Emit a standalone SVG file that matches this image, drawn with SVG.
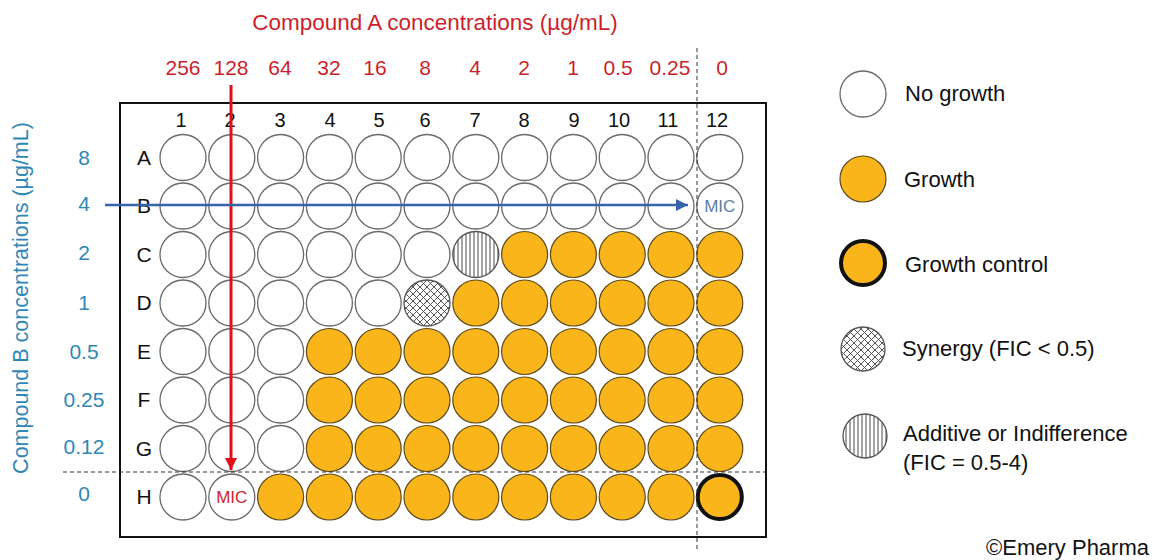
<svg xmlns="http://www.w3.org/2000/svg" width="1152" height="560" viewBox="0 0 1152 560">
<style>
text{font-family:"Liberation Sans",Arial,sans-serif;}
.w{fill:#fff;stroke:#6a6a6a;stroke-width:1.3}
.g{fill:#FAB51B;stroke:#5c4a1c;stroke-width:1.2}
.gc{fill:#FAB51B;stroke:#111;stroke-width:4}
.syn{fill:url(#cross);stroke:#555;stroke-width:1.3}
.add{fill:url(#vlines);stroke:#555;stroke-width:1.3}
.red{fill:#cc1f2d;font-size:21px;text-anchor:middle}
.blue{fill:#2f87b6;font-size:21px;text-anchor:middle}
.num{fill:#111;font-size:20px;text-anchor:middle}
.let{fill:#111;font-size:21px;text-anchor:middle}
.lg{fill:#111;font-size:22px}
</style>
<defs>
<pattern id="cross" patternUnits="userSpaceOnUse" width="7" height="7">
<rect width="7" height="7" fill="#fff"/>
<path d="M0,0L7,7M7,0L0,7M-1,6L1,8M6,-1L8,1M-1,1L1,-1M6,8L8,6" stroke="#444" stroke-width="0.9"/>
</pattern>
<pattern id="vlines" patternUnits="userSpaceOnUse" width="4" height="4">
<rect width="4" height="4" fill="#fff"/>
<path d="M2,0V4" stroke="#333" stroke-width="0.9"/>
</pattern>
<marker id="ahRed" markerUnits="userSpaceOnUse" markerWidth="14" markerHeight="14" refX="12" refY="6" orient="auto">
<path d="M0,0L12,6L0,12z" fill="#e3101b"/>
</marker>
<marker id="ahBlue" markerUnits="userSpaceOnUse" markerWidth="14" markerHeight="14" refX="12" refY="6" orient="auto">
<path d="M0,0L12,6L0,12z" fill="#3565a8"/>
</marker>
</defs>
<rect width="1152" height="560" fill="#fff"/>

<g id="titleA">
<text x="435" y="30" fill="#cc1f2d" font-size="22.5" text-anchor="middle">Compound A concentrations (µg/mL)</text>
</g>
<g id="concA">
<text class="red" x="183" y="75">256</text>
<text class="red" x="231" y="75">128</text>
<text class="red" x="280" y="75">64</text>
<text class="red" x="329" y="75">32</text>
<text class="red" x="375" y="75">16</text>
<text class="red" x="425" y="75">8</text>
<text class="red" x="475" y="75">4</text>
<text class="red" x="524" y="75">2</text>
<text class="red" x="573" y="75">1</text>
<text class="red" x="618" y="75">0.5</text>
<text class="red" x="670" y="75">0.25</text>
<text class="red" x="722" y="75">0</text>
</g>
<g id="titleB">
<text transform="translate(28,298) rotate(-90)" fill="#2f87b6" font-size="21.5" text-anchor="middle">Compound B concentrations (µg/mL)</text>
</g>
<g id="concB">
<text class="blue" x="84" y="165">8</text>
<text class="blue" x="84" y="211">4</text>
<text class="blue" x="84" y="260">2</text>
<text class="blue" x="84" y="310">1</text>
<text class="blue" x="84" y="359">0.5</text>
<text class="blue" x="84" y="407">0.25</text>
<text class="blue" x="84" y="454">0.12</text>
<text class="blue" x="84" y="501">0</text>
</g>

<g id="plate">
<rect x="120" y="103" width="646" height="434" fill="none" stroke="#111" stroke-width="2"/>
<text class="num" x="181" y="127">1</text>
<text class="num" x="230" y="127">2</text>
<text class="num" x="280" y="127">3</text>
<text class="num" x="330" y="127">4</text>
<text class="num" x="379" y="127">5</text>
<text class="num" x="425" y="127">6</text>
<text class="num" x="475" y="127">7</text>
<text class="num" x="524" y="127">8</text>
<text class="num" x="574" y="127">9</text>
<text class="num" x="619" y="127">10</text>
<text class="num" x="668" y="127">11</text>
<text class="num" x="717" y="127">12</text>
<text class="let" x="144" y="165">A</text>
<text class="let" x="144" y="213">B</text>
<text class="let" x="144" y="262">C</text>
<text class="let" x="144" y="310">D</text>
<text class="let" x="144" y="359">E</text>
<text class="let" x="144" y="407">F</text>
<text class="let" x="144" y="456">G</text>
<text class="let" x="144" y="504">H</text>
</g>

<g id="rowA">
<circle class="w" cx="183" cy="157.5" r="23"/><circle class="w" cx="231.8" cy="157.5" r="23"/><circle class="w" cx="280.6" cy="157.5" r="23"/><circle class="w" cx="329.4" cy="157.5" r="23"/><circle class="w" cx="378.2" cy="157.5" r="23"/><circle class="w" cx="427" cy="157.5" r="23"/><circle class="w" cx="475.8" cy="157.5" r="23"/><circle class="w" cx="524.6" cy="157.5" r="23"/><circle class="w" cx="573.4" cy="157.5" r="23"/><circle class="w" cx="622.2" cy="157.5" r="23"/><circle class="w" cx="671" cy="157.5" r="23"/><circle class="w" cx="719.8" cy="157.5" r="23"/>
</g>
<g id="rowB">
<circle class="w" cx="183" cy="206" r="23"/><circle class="w" cx="231.8" cy="206" r="23"/><circle class="w" cx="280.6" cy="206" r="23"/><circle class="w" cx="329.4" cy="206" r="23"/><circle class="w" cx="378.2" cy="206" r="23"/><circle class="w" cx="427" cy="206" r="23"/><circle class="w" cx="475.8" cy="206" r="23"/><circle class="w" cx="524.6" cy="206" r="23"/><circle class="w" cx="573.4" cy="206" r="23"/><circle class="w" cx="622.2" cy="206" r="23"/><circle class="w" cx="671" cy="206" r="23"/><circle class="w" cx="719.8" cy="206" r="23"/>
<text x="719.8" y="212" fill="#5a7ea8" font-size="17" text-anchor="middle">MIC</text>
</g>
<g id="rowC">
<circle class="w" cx="183" cy="254.5" r="23"/><circle class="w" cx="231.8" cy="254.5" r="23"/><circle class="w" cx="280.6" cy="254.5" r="23"/><circle class="w" cx="329.4" cy="254.5" r="23"/><circle class="w" cx="378.2" cy="254.5" r="23"/><circle class="w" cx="427" cy="254.5" r="23"/><circle class="add" cx="475.8" cy="254.5" r="23"/><circle class="g" cx="524.6" cy="254.5" r="23"/><circle class="g" cx="573.4" cy="254.5" r="23"/><circle class="g" cx="622.2" cy="254.5" r="23"/><circle class="g" cx="671" cy="254.5" r="23"/><circle class="g" cx="719.8" cy="254.5" r="23"/>
</g>
<g id="rowD">
<circle class="w" cx="183" cy="303" r="23"/><circle class="w" cx="231.8" cy="303" r="23"/><circle class="w" cx="280.6" cy="303" r="23"/><circle class="w" cx="329.4" cy="303" r="23"/><circle class="w" cx="378.2" cy="303" r="23"/><circle class="syn" cx="427" cy="303" r="23"/><circle class="g" cx="475.8" cy="303" r="23"/><circle class="g" cx="524.6" cy="303" r="23"/><circle class="g" cx="573.4" cy="303" r="23"/><circle class="g" cx="622.2" cy="303" r="23"/><circle class="g" cx="671" cy="303" r="23"/><circle class="g" cx="719.8" cy="303" r="23"/>
</g>
<g id="rowE">
<circle class="w" cx="183" cy="351.5" r="23"/><circle class="w" cx="231.8" cy="351.5" r="23"/><circle class="w" cx="280.6" cy="351.5" r="23"/><circle class="g" cx="329.4" cy="351.5" r="23"/><circle class="g" cx="378.2" cy="351.5" r="23"/><circle class="g" cx="427" cy="351.5" r="23"/><circle class="g" cx="475.8" cy="351.5" r="23"/><circle class="g" cx="524.6" cy="351.5" r="23"/><circle class="g" cx="573.4" cy="351.5" r="23"/><circle class="g" cx="622.2" cy="351.5" r="23"/><circle class="g" cx="671" cy="351.5" r="23"/><circle class="g" cx="719.8" cy="351.5" r="23"/>
</g>
<g id="rowF">
<circle class="w" cx="183" cy="400" r="23"/><circle class="w" cx="231.8" cy="400" r="23"/><circle class="w" cx="280.6" cy="400" r="23"/><circle class="g" cx="329.4" cy="400" r="23"/><circle class="g" cx="378.2" cy="400" r="23"/><circle class="g" cx="427" cy="400" r="23"/><circle class="g" cx="475.8" cy="400" r="23"/><circle class="g" cx="524.6" cy="400" r="23"/><circle class="g" cx="573.4" cy="400" r="23"/><circle class="g" cx="622.2" cy="400" r="23"/><circle class="g" cx="671" cy="400" r="23"/><circle class="g" cx="719.8" cy="400" r="23"/>
</g>
<g id="rowG">
<circle class="w" cx="183" cy="448.5" r="23"/><circle class="w" cx="231.8" cy="448.5" r="23"/><circle class="w" cx="280.6" cy="448.5" r="23"/><circle class="g" cx="329.4" cy="448.5" r="23"/><circle class="g" cx="378.2" cy="448.5" r="23"/><circle class="g" cx="427" cy="448.5" r="23"/><circle class="g" cx="475.8" cy="448.5" r="23"/><circle class="g" cx="524.6" cy="448.5" r="23"/><circle class="g" cx="573.4" cy="448.5" r="23"/><circle class="g" cx="622.2" cy="448.5" r="23"/><circle class="g" cx="671" cy="448.5" r="23"/><circle class="g" cx="719.8" cy="448.5" r="23"/>
</g>
<g id="rowH">
<circle class="w" cx="183" cy="497" r="23"/><circle class="w" cx="231.8" cy="497" r="23"/><circle class="g" cx="280.6" cy="497" r="23"/><circle class="g" cx="329.4" cy="497" r="23"/><circle class="g" cx="378.2" cy="497" r="23"/><circle class="g" cx="427" cy="497" r="23"/><circle class="g" cx="475.8" cy="497" r="23"/><circle class="g" cx="524.6" cy="497" r="23"/><circle class="g" cx="573.4" cy="497" r="23"/><circle class="g" cx="622.2" cy="497" r="23"/><circle class="g" cx="671" cy="497" r="23"/><circle class="gc" cx="719.8" cy="497" r="22"/>
<text x="231.8" y="503" fill="#cc1f2d" font-size="17" text-anchor="middle">MIC</text>
</g>

<g id="connectors">
<line x1="697" y1="48" x2="697" y2="552" stroke="#333" stroke-width="1" stroke-dasharray="4,3"/>
<line x1="63" y1="472" x2="766" y2="472" stroke="#333" stroke-width="1" stroke-dasharray="4,3"/>
<line x1="231" y1="85" x2="231" y2="470" stroke="#e3101b" stroke-width="3" marker-end="url(#ahRed)"/>
<line x1="105" y1="205" x2="688" y2="205" stroke="#3565a8" stroke-width="2.5" marker-end="url(#ahBlue)"/>
</g>

<g id="legend-nogrowth">
<circle class="w" cx="863" cy="94" r="23"/>
<text class="lg" x="905" y="101">No growth</text>
</g>
<g id="legend-growth">
<circle class="g" cx="863" cy="179" r="23"/>
<text class="lg" x="904" y="187">Growth</text>
</g>
<g id="legend-control">
<circle class="gc" cx="863" cy="263" r="22"/>
<text class="lg" x="905" y="272">Growth control</text>
</g>
<g id="legend-synergy">
<circle class="syn" cx="863" cy="349" r="22"/>
<text class="lg" x="902" y="356">Synergy (FIC &lt; 0.5)</text>
</g>
<g id="legend-additive">
<circle class="add" cx="865" cy="436" r="22"/>
<text class="lg" x="903" y="441">Additive or Indifference</text>
<text class="lg" x="903" y="470">(FIC = 0.5-4)</text>
</g>
<g id="credit">
<text class="lg" x="1149" y="555" text-anchor="end">©Emery Pharma</text>
</g>
</svg>
